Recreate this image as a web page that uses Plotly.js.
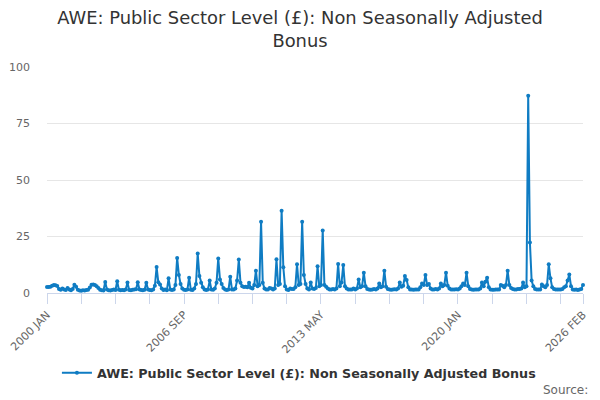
<!DOCTYPE html>
<html>
<head>
<meta charset="utf-8">
<script src="https://cdn.plot.ly/plotly-3.0.1.min.js"></script>
<style>
  html, body { margin: 0; padding: 0; background: #fff; }
  #chart { width: 600px; height: 400px; }
</style>
</head>
<body>
<div id="chart"></div>
<script>
/* ---------- data: monthly values, 2000 JAN .. 2026 FEB ---------- */
const MONTHS = ["JAN","FEB","MAR","APR","MAY","JUN","JUL","AUG","SEP","OCT","NOV","DEC"];
const START_YEAR = 2000;

const y2000 = [2.6, 2.7, 2.8, 3.2, 3.5, 3.4, 3.1, 1.8, 1.4, 2.0, 1.6, 1.3];
const y2001 = [2.2, 1.5, 1.2, 1.8, 3.6, 2.8, 1.4, 1.1, 1.0, 1.2, 1.1, 1.3];
const y2002 = [1.4, 2.4, 3.6, 3.8, 3.5, 3.0, 2.2, 1.4, 1.2, 1.1, 4.9, 1.6];
const y2003 = [1.2, 1.1, 1.3, 1.5, 1.3, 5.2, 1.4, 1.2, 1.3, 1.2, 1.6, 4.6];
const y2004 = [1.3, 1.2, 1.4, 1.5, 1.7, 4.8, 1.6, 1.3, 1.2, 1.4, 4.5, 1.5];
const y2005 = [1.3, 1.2, 1.6, 3.2, 11.5, 4.8, 3.8, 2.0, 1.3, 1.5, 1.2, 6.5];
const y2006 = [1.5, 1.3, 1.6, 3.5, 15.5, 8.0, 4.0, 2.0, 1.4, 1.3, 1.5, 6.8];
const y2007 = [1.4, 1.3, 2.0, 4.0, 17.5, 7.5, 4.5, 2.5, 1.5, 1.3, 1.6, 5.5];
const y2008 = [1.5, 1.4, 2.0, 4.5, 15.3, 6.0, 4.0, 2.2, 1.5, 1.3, 1.5, 7.2];
const y2009 = [1.6, 1.5, 2.0, 5.5, 14.8, 4.5, 3.0, 2.6, 2.8, 2.5, 4.5, 2.3];
const y2010 = [2.0, 3.5, 9.9, 3.0, 3.5, 31.5, 4.5, 2.0, 1.6, 1.5, 2.2, 2.0];
const y2011 = [1.5, 2.0, 14.9, 3.5, 4.0, 36.4, 11.4, 3.0, 1.5, 1.3, 2.0, 1.8];
const y2012 = [1.8, 2.5, 12.7, 3.5, 4.0, 31.5, 8.0, 4.0, 2.0, 1.6, 4.6, 2.0];
const y2013 = [1.8, 2.2, 11.8, 3.0, 3.5, 27.6, 3.5, 2.8, 2.0, 1.6, 1.5, 1.8];
const y2014 = [1.6, 2.0, 12.8, 3.0, 4.6, 12.4, 3.0, 2.0, 1.6, 1.5, 1.6, 2.0];
const y2015 = [1.5, 2.0, 6.0, 2.5, 3.0, 9.0, 3.0, 1.8, 1.5, 1.4, 1.6, 1.8];
const y2016 = [1.5, 2.0, 4.2, 2.5, 3.0, 9.9, 2.8, 1.8, 1.5, 1.4, 1.5, 1.7];
const y2017 = [1.6, 2.0, 4.6, 2.8, 3.2, 7.5, 5.8, 2.5, 1.6, 1.5, 1.4, 1.5];
const y2018 = [1.5, 1.6, 2.5, 4.2, 3.5, 8.0, 3.5, 4.0, 2.0, 1.6, 1.5, 1.8];
const y2019 = [1.6, 2.0, 4.2, 3.0, 3.5, 9.0, 3.2, 2.0, 1.6, 1.5, 1.5, 1.7];
const y2020 = [1.6, 2.0, 3.0, 4.2, 3.5, 9.0, 3.0, 1.8, 1.5, 1.4, 1.5, 1.6];
const y2021 = [1.5, 2.0, 4.6, 3.0, 5.0, 6.8, 2.5, 1.6, 1.4, 1.4, 1.5, 1.6];
const y2022 = [1.6, 3.5, 3.2, 2.5, 3.5, 9.9, 3.5, 2.2, 1.8, 1.6, 1.6, 1.8];
const y2023 = [1.8, 2.0, 4.6, 2.5, 3.0, 87.3, 22.4, 5.5, 3.0, 1.8, 1.5, 1.6];
const y2024 = [1.6, 3.8, 3.0, 2.5, 3.5, 12.7, 6.5, 2.5, 1.8, 1.6, 1.5, 1.6];
const y2025 = [1.6, 1.8, 2.5, 3.0, 5.5, 8.2, 3.0, 1.6, 1.4, 1.5, 1.3, 1.5];
const y2026 = [1.8, 3.5];

const values = [].concat(
  y2000, y2001, y2002, y2003, y2004, y2005, y2006, y2007, y2008, y2009,
  y2010, y2011, y2012, y2013, y2014, y2015, y2016, y2017, y2018, y2019,
  y2020, y2021, y2022, y2023, y2024, y2025, y2026
);

// month labels like "2000 JAN"
const labels = values.map((v, i) =>
  (START_YEAR + Math.floor(i / 12)) + " " + MONTHS[i % 12]
);
const idx = values.map((v, i) => i);

// tick marks every 20 months, labels every 80 plus the last month
const last = values.length - 1;
const tickVals = [];
for (let i = 0; i < last; i += 20) tickVals.push(i);
tickVals.push(last);
const tickText = tickVals.map((i) =>
  (i % 80 === 0 || i === last) ? labels[i] : ""
);

const SERIES_NAME = "AWE: Public Sector Level (£): Non Seasonally Adjusted Bonus";
const FONT = "DejaVu Sans, Verdana, sans-serif";

/* ---------- plot ---------- */
Plotly.newPlot(
  "chart",
  [
    {
      x: idx,
      y: values,
      text: labels,
      type: "scatter",
      mode: "lines+markers",
      name: SERIES_NAME,
      line: { color: "#0f7cc3", width: 2 },
      marker: { color: "#0f7cc3", size: 4 },
      cliponaxis: false,
      hovertemplate: "%{text}: %{y}<extra></extra>",
    },
  ],
  {
    width: 600,
    height: 400,
    paper_bgcolor: "#fff",
    plot_bgcolor: "#fff",
    font: { family: FONT, color: "#666", size: 11 },
    margin: { l: 47, r: 17, t: 67, b: 107, autoexpand: false },
    title: {
      text: "AWE: Public Sector Level (£): Non Seasonally Adjusted<br>Bonus",
      font: { family: FONT, size: 17.9, color: "#333" },
      x: 0.5,
      xanchor: "center",
      y: 0.94,
      yanchor: "top",
    },
    xaxis: {
      range: [0, last],
      tickvals: tickVals,
      ticktext: tickText,
      tickangle: -45,
      ticks: "outside",
      ticklen: 10,
      tickcolor: "#ccd6eb",
      showgrid: false,
      zeroline: false,
      showline: true,
      linecolor: "#ccd6eb",
      tickfont: { size: 11, color: "#666" },
      fixedrange: true,
    },
    yaxis: {
      range: [0, 100],
      tickvals: [0, 25, 50, 75, 100],
      showgrid: true,
      gridcolor: "#e6e6e6",
      zeroline: false,
      ticks: "",
      ticklabelstandoff: 16,
      tickfont: { size: 11, color: "#666" },
      fixedrange: true,
    },
    showlegend: true,
    legend: {
      orientation: "h",
      x: 0.47,
      xanchor: "center",
      y: -0.354,
      yanchor: "middle",
      font: { family: FONT, size: 12.7, color: "#333", weight: "bold" },
    },
    annotations: [
      {
        text: "Source:",
        xref: "paper",
        yref: "paper",
        x: 1.013,
        xanchor: "right",
        y: -0.429,
        yanchor: "middle",
        showarrow: false,
        font: { family: FONT, size: 12, color: "#666" },
      },
    ],
  },
  { displayModeBar: false, staticPlot: true }
);
</script>
</body>
</html>
